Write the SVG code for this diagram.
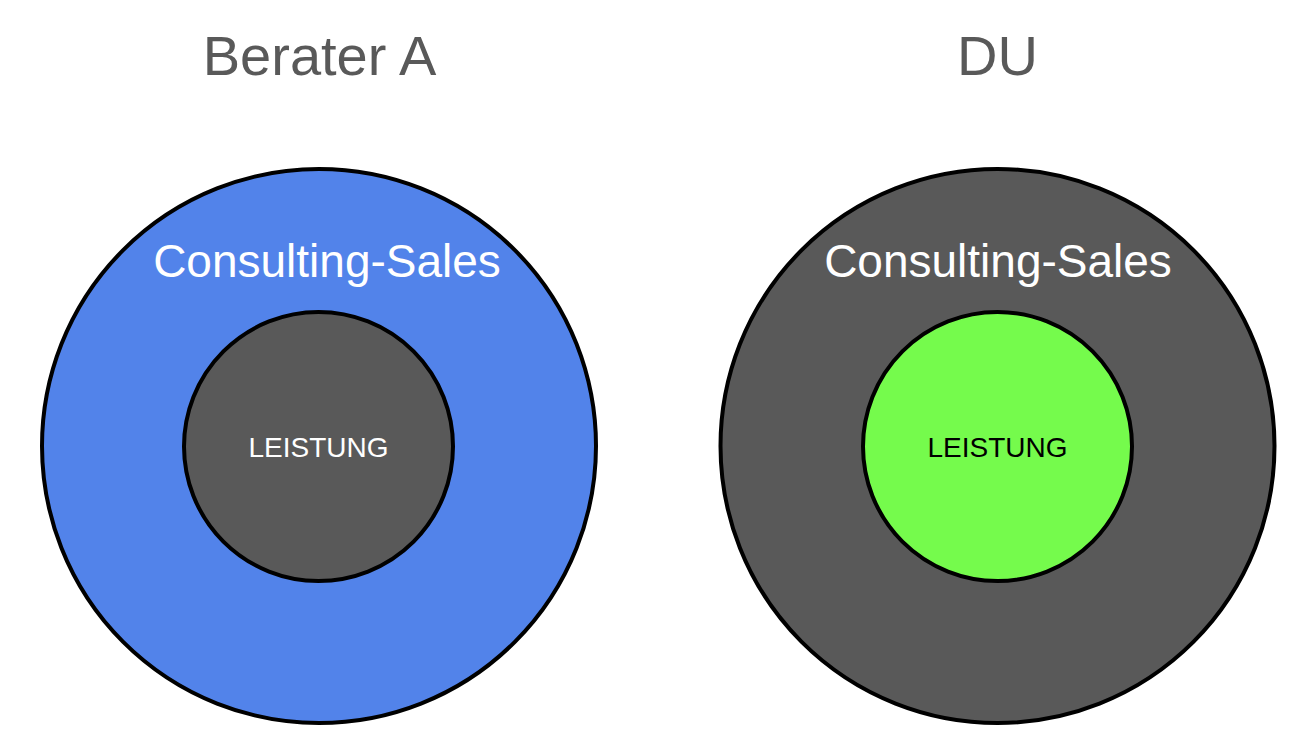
<svg xmlns="http://www.w3.org/2000/svg" width="1302" height="744" viewBox="0 0 1302 744">
<style>
.ring{stroke:#000;stroke-width:4}
.title{font-family:"Liberation Sans",Arial,sans-serif;font-size:56px;fill:#595959;text-anchor:middle}
.outerlbl{font-family:"Liberation Sans",Arial,sans-serif;font-size:46px;fill:#fff;text-anchor:middle}
.innerlbl{font-family:"Liberation Sans",Arial,sans-serif;font-size:28px;text-anchor:middle}
</style>
<rect width="1302" height="744" fill="#fff"/>
<g id="title-berater"><text class="title" x="319.5" y="75">Berater A</text></g>
<g id="title-du"><text class="title" x="997.5" y="75">DU</text></g>
<g id="berater-outer">
<circle class="ring" cx="319" cy="446" r="277" fill="#5283EA"/>
<text class="outerlbl" x="327" y="277">Consulting-Sales</text>
</g>
<g id="berater-inner">
<circle class="ring" cx="318.5" cy="446.5" r="134.5" fill="#595959"/>
<text class="innerlbl" x="318.5" y="457" fill="#fff">LEISTUNG</text>
</g>
<g id="du-outer">
<circle class="ring" cx="997.5" cy="446" r="277" fill="#595959"/>
<text class="outerlbl" x="998" y="277">Consulting-Sales</text>
</g>
<g id="du-inner">
<circle class="ring" cx="997.5" cy="446.5" r="134.5" fill="#75FB4C"/>
<text class="innerlbl" x="997.5" y="457" fill="#000">LEISTUNG</text>
</g>
<g id="connectors"/>
</svg>
